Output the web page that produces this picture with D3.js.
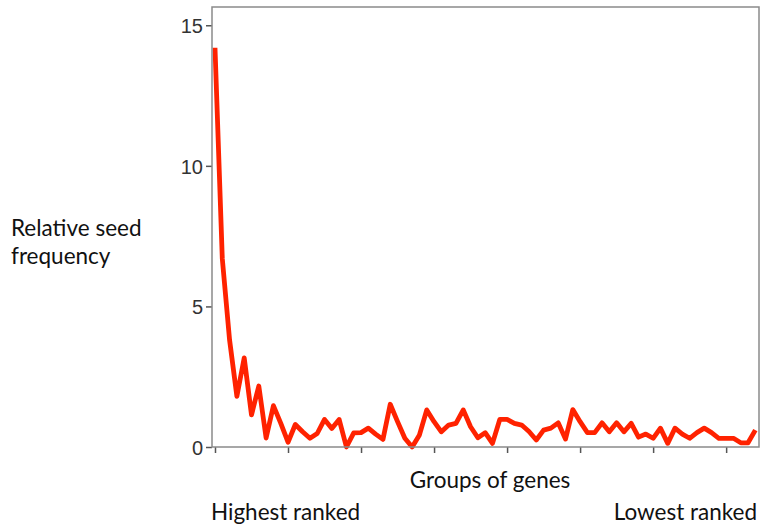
<!DOCTYPE html>
<meta charset="utf-8">

<style type="text/css">
  body { margin: 0; background: #fff; }

  .frame {
  	fill: none;
  	stroke: #8a8a8a;
  	stroke-width: 1.5;
  }

  .axis path { display: none; }

  .axis line {
  	stroke: #555;
  	stroke-width: 1.5;
  }

  .y-axis text {
  	font-family: "Liberation Sans", Arial, sans-serif;
  	font-size: 20px;
  	fill: #333;
  }

  .seed-path {
  	stroke: #ff2200;
  	stroke-width: 4.8;
  	fill: none;
  	stroke-linejoin: round;
  }

  .label {
  	font-family: Lato, "Open Sans", sans-serif;
  	font-size: 22.5px;
  	fill: #111;
  }
</style>

<body>
</body>

<script src="https://d3js.org/d3.v7.min.js"></script>

<script>

// one value per group of genes, highest ranked first
var seedFreq = [14.2, 6.7, 3.8, 1.8, 3.17, 1.14, 2.17, 0.32, 1.47, 0.85,
	0.17, 0.8, 0.54, 0.31, 0.48, 0.98, 0.66, 0.98, 0.0, 0.5,
	0.51, 0.67, 0.46, 0.27, 1.52, 0.9, 0.31, 0.0, 0.43, 1.32,
	0.9, 0.54, 0.78, 0.84, 1.32, 0.72, 0.33, 0.51, 0.13, 0.98,
	0.98, 0.84, 0.78, 0.55, 0.25, 0.6, 0.67, 0.86, 0.28, 1.33,
	0.9, 0.51, 0.51, 0.86, 0.54, 0.86, 0.54, 0.84, 0.35, 0.46,
	0.31, 0.67, 0.13, 0.67, 0.46, 0.31, 0.51, 0.67, 0.51, 0.31,
	0.31, 0.31, 0.15, 0.15, 0.6];

var yTicks = [0, 5, 10, 15];
var xTicks = [0, 10, 20, 30, 40, 50, 60, 70];

var yLabelLines = ["Relative seed", "frequency"];
var xTitle = "Groups of genes";
var leftNote = "Highest ranked",
    rightNote = "Lowest ranked";

var margin = {top: 7, right: 5, bottom: 80, left: 212};

var W = 764, H = 527;
var w = W - margin.left - margin.right,
    h = H - margin.top - margin.bottom;

var xscale = d3.scaleLinear()
	.domain([-0.41, 74.5])
	.range([0, w]);

var yscale = d3.scaleLinear()
	.domain([0, 15.65])
	.range([h, 0]);

var svg = d3.select("body").append("svg")
	.attr("width", W)
	.attr("height", H);

var chart = svg.append("g")
	.attr("transform", "translate(" + margin.left + "," + margin.top + ")");

var yaxis = d3.axisLeft(yscale)
	.tickValues(yTicks)
	.tickSize(6)
	.tickPadding(3);

var xaxis = d3.axisBottom(xscale)
	.tickValues(xTicks)
	.tickSize(6)
	.tickFormat("");

chart.append("g")
	.attr("class", "axis y-axis")
	.call(yaxis)
	.selectAll("text")
	.attr("dy", "0.36em");

chart.append("g")
	.attr("class", "axis x-axis")
	.attr("transform", "translate(0," + h + ")")
	.call(xaxis);

var lineGenerator = d3.line()
	.x(function(d, i) { return xscale(i); })
	.y(function(d) { return yscale(d); });

chart.append("path")
	.attr("class", "seed-path")
	.attr("d", lineGenerator(seedFreq));

chart.append("rect")
	.attr("class", "frame")
	.attr("x", 0)
	.attr("y", 0)
	.attr("width", w)
	.attr("height", h);

// labels
svg.append("text")
	.attr("class", "label")
	.attr("y", 236)
	.selectAll("tspan")
	.data(yLabelLines)
	.enter()
	.append("tspan")
	.attr("x", 11)
	.attr("dy", function(d, i) { return i ? 28 : 0; })
	.text(function(d) { return d; });

svg.append("text")
	.attr("class", "label")
	.attr("x", 490)
	.attr("y", 488)
	.attr("text-anchor", "middle")
	.text(xTitle);

svg.append("text")
	.attr("class", "label")
	.attr("x", 211)
	.attr("y", 520)
	.text(leftNote);

svg.append("text")
	.attr("class", "label")
	.attr("x", 757)
	.attr("y", 520)
	.attr("text-anchor", "end")
	.text(rightNote);

</script>
